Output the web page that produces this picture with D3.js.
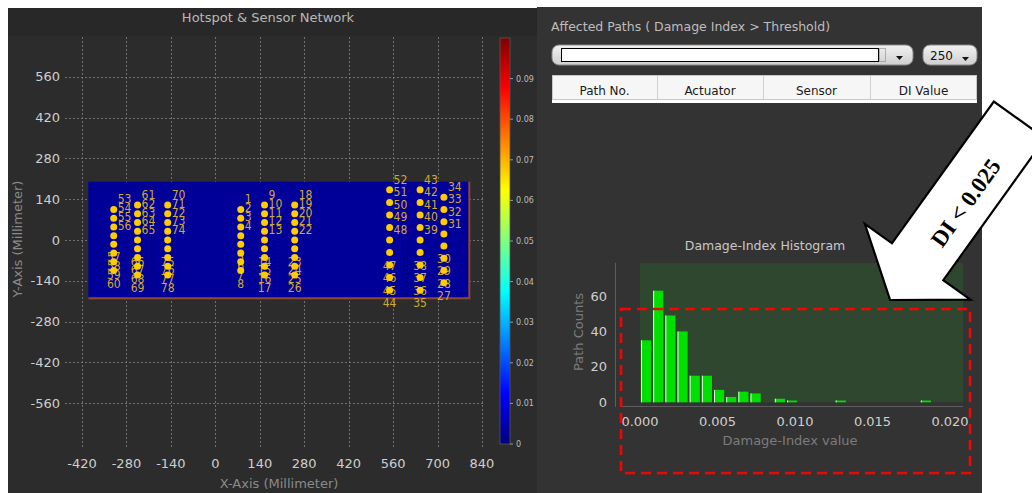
<!DOCTYPE html>
<html><head><meta charset="utf-8">
<script src="https://cdn.jsdelivr.net/npm/d3@7"></script>
<style>html,body{margin:0;padding:0;background:#fff;overflow:hidden}svg{display:block}</style>
</head><body>
<svg id="c" width="1032" height="493"></svg>
<script>
// ---------------- data ----------------
const sensorId = [1,2,3,4,5,6,7,8, 9,10,11,12,13,14,15,16,17, 18,19,20,21,22,23,24,25,26,
  27,28,29,30,31,32,33,34, 35,36,37,38,39,40,41,42,43, 44,45,46,47,48,49,50,51,52,
  53,54,55,56,57,58,59,60, 61,62,63,64,65,66,67,68,69, 70,71,72,73,74,75,76,77,78];
const sensorX = [80,80,80,80,80,80,80,80, 155,155,155,155,155,155,155,155,155, 250,250,250,250,250,250,250,250,250,
  720,720,720,720,720,720,720,720, 645,645,645,645,645,645,645,645,645, 549,549,549,549,549,549,549,549,549,
  -320,-320,-320,-320,-320,-320,-320,-320, -245,-245,-245,-245,-245,-245,-245,-245,-245, -150,-150,-150,-150,-150,-150,-150,-150,-150];
const sensorY = [105,75,45,15,-15,-45,-75,-105, 120,90,60,30,0,-30,-60,-90,-120, 120,90,60,30,0,-30,-60,-90,-120,
  -147,-105,-63,-21,21,63,105,147, -172,-129,-86,-43,0,43,86,129,172, -172,-129,-86,-43,0,43,86,129,172,
  105,75,45,15,-15,-45,-75,-105, 120,90,60,30,0,-30,-60,-90,-120, 120,90,60,30,0,-30,-60,-90,-120];
const plateX = [-400, 800];
const plateY = [-200, 200];
const hotspotLineX = [-202, 202, 605];
const hotspotLineY = [-195, 190];
const xTicks = [-420,-280,-140,0,140,280,420,560,700,840];
const yTicks = [-560,-420,-280,-140,0,140,280,420,560];
const cbTicks = [0,0.01,0.02,0.03,0.04,0.05,0.06,0.07,0.08,0.09];
const cbTickLabels = ["0","0.01","0.02","0.03","0.04","0.05","0.06","0.07","0.08","0.09"];
const histCounts = [35,63,49,40,15,15,7,3,6,5,0,2,1,0,0,0,1,0,0,0,0,0,0,1];
const histBinWidth = 0.000785;
const histXTicks = [0,0.005,0.010,0.015,0.020];
const histXTickLabels = ["0.000","0.005","0.010","0.015","0.020"];
const histYTicks = [0,20,40,60];
const tableHeaders = ["Path No.","Actuator","Sensor","DI Value"];
const comboValue = "250";

// ---------------- drawing ----------------
const svg = d3.select("#c");
const FONT = "'DejaVu Sans', Verdana, sans-serif";

// panels
svg.append("rect").attr("x",0).attr("y",0).attr("width",1032).attr("height",493).attr("fill","#fff");
svg.append("rect").attr("x",8).attr("y",8).attr("width",529).attr("height",485).attr("fill","#2c2c2c");
svg.append("rect").attr("x",8).attr("y",8).attr("width",529).attr("height",28).attr("fill","#282828");
svg.append("rect").attr("x",537).attr("y",7).attr("width",445).attr("height",486).attr("fill","#333333");

// ---- left chart ----
const x = d3.scaleLinear().domain([-420,840]).range([82,482]);
const y = d3.scaleLinear().domain([-560,560]).range([403.2,76.8]);

svg.append("text").attr("x",268).attr("y",22).attr("text-anchor","middle")
  .attr("font-family",FONT).attr("font-size",13).attr("fill","#b8b8b8").text("Hotspot & Sensor Network");

const grid = svg.append("g").attr("stroke","#707070").attr("stroke-width",1).attr("stroke-dasharray","2,2").attr("shape-rendering","crispEdges");
grid.selectAll("line.v").data(xTicks).join("line").attr("class","v")
  .attr("x1",d=>Math.round(x(d))+0.5).attr("x2",d=>Math.round(x(d))+0.5).attr("y1",37).attr("y2",447);
grid.selectAll("line.h").data(yTicks).join("line").attr("class","h")
  .attr("y1",d=>Math.round(y(d))+0.5).attr("y2",d=>Math.round(y(d))+0.5).attr("x1",65).attr("x2",483);

svg.append("g").selectAll("text").data(yTicks).join("text")
  .attr("x",60).attr("y",d=>y(d)+4.5).attr("text-anchor","end")
  .attr("font-family",FONT).attr("font-size",13).attr("fill","#cfcfcf").text(d=>d);
svg.append("g").selectAll("text").data(xTicks).join("text")
  .attr("x",d=>x(d)).attr("y",467.5).attr("text-anchor","middle")
  .attr("font-family",FONT).attr("font-size",13).attr("fill","#cfcfcf").text(d=>d);
svg.append("text").attr("x",279).attr("y",487.5).attr("text-anchor","middle")
  .attr("font-family",FONT).attr("font-size",13).attr("fill","#8a8a8a").text("X-Axis (Millimeter)");
svg.append("text").attr("transform","translate(22,239) rotate(-90)").attr("text-anchor","middle")
  .attr("font-family",FONT).attr("font-size",13).attr("fill","#8a8a8a").text("Y-Axis (Millimeter)");

// plate
svg.append("rect").attr("x",x(plateX[0])).attr("y",y(plateY[1]))
  .attr("width",x(plateX[1])-x(plateX[0])).attr("height",y(plateY[0])-y(plateY[1]))
  .attr("fill","#000099");
svg.append("line").attr("x1",x(plateX[0])).attr("x2",x(plateX[1])+1).attr("y1",y(plateY[0])).attr("y2",y(plateY[0]))
  .attr("stroke","#8e4a2e").attr("stroke-width",2);
svg.append("line").attr("x1",x(plateX[1])).attr("x2",x(plateX[1])).attr("y1",y(plateY[1])).attr("y2",y(plateY[0]))
  .attr("stroke","#8e4a2e").attr("stroke-width",2);
svg.append("g").selectAll("line").data(hotspotLineX).join("line")
  .attr("x1",d=>x(d)).attr("x2",d=>x(d)).attr("y1",y(hotspotLineY[1])).attr("y2",y(hotspotLineY[0]))
  .attr("stroke","#000").attr("stroke-width",1).attr("stroke-dasharray","2,2");

// sensors
const sensors = sensorId.map((id,i)=>({id, sx:sensorX[i], sy:sensorY[i]}));
svg.append("g").selectAll("text").data(sensors).join("text")
  .attr("x",d=> d.sy>=0 ? x(d.sx)+4 : x(d.sx))
  .attr("y",d=> d.sy>=0 ? y(d.sy)-10 : y(d.sy)+13)
  .attr("text-anchor",d=> d.sy>=0 ? "start" : "middle")
  .attr("dominant-baseline","central")
  .attr("font-family","'DejaVu Sans Condensed','Liberation Sans Narrow',sans-serif").attr("font-size",12)
  .attr("fill","#d2aa2a").text(d=>d.id);
svg.append("g").selectAll("circle").data(sensors).join("circle")
  .attr("cx",d=>x(d.sx)).attr("cy",d=>y(d.sy)).attr("r",3.5).attr("fill","#ffcc00");

// colorbar
const cb = d3.scaleLinear().domain([0,0.1]).range([444,38]);
const defs = svg.append("defs");
const grad = defs.append("linearGradient").attr("id","jet").attr("x1",0).attr("y1",1).attr("x2",0).attr("y2",0);
[[0,"#00007f"],[0.125,"#0000ff"],[0.375,"#00ffff"],[0.625,"#ffff00"],[0.875,"#ff0000"],[1,"#7f0000"]]
  .forEach(s=>grad.append("stop").attr("offset",s[0]).attr("stop-color",s[1]));
svg.append("rect").attr("x",500).attr("y",cb(0.1)).attr("width",10).attr("height",cb(0)-cb(0.1))
  .attr("fill","url(#jet)").attr("stroke","#555").attr("stroke-width",0.8);
svg.append("g").selectAll("line").data(cbTicks).join("line")
  .attr("x1",510).attr("x2",513).attr("y1",d=>cb(d)).attr("y2",d=>cb(d)).attr("stroke","#999");
svg.append("g").selectAll("text").data(cbTicks).join("text")
  .attr("x",516).attr("y",d=>cb(d)+3).attr("font-family",FONT).attr("font-size",8)
  .attr("fill","#bdbdbd").text((d,i)=>cbTickLabels[i]);

// ---- right panel UI ----
svg.append("text").attr("x",551).attr("y",31).attr("font-family",FONT).attr("font-size",12.5)
  .attr("fill","#bdbdbd").text("Affected Paths ( Damage Index > Threshold)");
const cg = defs.append("linearGradient").attr("id","combo").attr("x1",0).attr("y1",0).attr("x2",0).attr("y2",1);
cg.append("stop").attr("offset",0).attr("stop-color","#f2f2f2");
cg.append("stop").attr("offset",1).attr("stop-color","#cfcfcf");
svg.append("rect").attr("x",552).attr("y",45).attr("width",361).attr("height",20).attr("rx",7)
  .attr("fill","url(#combo)").attr("stroke","#8a8a8a");
svg.append("rect").attr("x",561.5).attr("y",48.5).attr("width",317).attr("height",13)
  .attr("fill","#fff").attr("stroke","#000");
svg.append("rect").attr("x",879.5).attr("y",48.5).attr("width",6).attr("height",13)
  .attr("fill","none").attr("stroke","#777").attr("stroke-dasharray","1,1");
svg.append("path").attr("d","M896,56 L903,56 L899.5,60 Z").attr("fill","#111");
svg.append("rect").attr("x",923).attr("y",45).attr("width",54).attr("height",20).attr("rx",7)
  .attr("fill","url(#combo)").attr("stroke","#8a8a8a");
svg.append("text").attr("x",930).attr("y",60).attr("font-family",FONT).attr("font-size",12)
  .attr("fill","#111").text(comboValue);
svg.append("path").attr("d","M962,57 L969,57 L965.5,61 Z").attr("fill","#111");

svg.append("rect").attr("x",552).attr("y",75).attr("width",425).attr("height",28).attr("fill","#fff");
svg.append("rect").attr("x",552.5).attr("y",75.5).attr("width",424).attr("height",24)
  .attr("fill","#f6f6f6").attr("stroke","#c8c8c8");
const colEdges = [552,657,763,870,977];
svg.append("g").selectAll("line").data(colEdges.slice(1,4)).join("line")
  .attr("x1",d=>d+0.5).attr("x2",d=>d+0.5).attr("y1",76).attr("y2",99).attr("stroke","#d0d0d0");
svg.append("g").selectAll("text").data(tableHeaders).join("text")
  .attr("x",(d,i)=>(colEdges[i]+colEdges[i+1])/2).attr("y",95).attr("text-anchor","middle")
  .attr("font-family",FONT).attr("font-size",12).attr("fill","#1a1a1a").text(d=>d);

// ---- histogram ----
const hx = d3.scaleLinear().domain([0,0.02]).range([640,950]);
const hy = d3.scaleLinear().domain([0,60]).range([402.3,296]);
svg.append("text").attr("x",765).attr("y",250).attr("text-anchor","middle")
  .attr("font-family",FONT).attr("font-size",12.5).attr("fill","#c8c8c8").text("Damage-Index Histogram");
svg.append("rect").attr("x",640).attr("y",hy(78.7)).attr("width",323).attr("height",hy(0)-hy(78.7)).attr("fill","#2f472f");
svg.append("line").attr("x1",615.5).attr("x2",615.5).attr("y1",hy(78.7)).attr("y2",407).attr("stroke","#5e5e5e");
svg.append("line").attr("x1",620).attr("x2",963).attr("y1",406.5).attr("y2",406.5).attr("stroke","#5e5e5e");
const bins = histCounts.map((c,i)=>({c, x0:i*histBinWidth, x1:(i+1)*histBinWidth})).filter(b=>b.c>0);
const bg = svg.append("g");
bg.selectAll("rect").data(bins).join("rect")
  .attr("x",d=>hx(d.x0)+1).attr("width",d=>hx(d.x1)-hx(d.x0)-2)
  .attr("y",d=>hy(d.c)).attr("height",d=>hy(0)-hy(d.c)).attr("fill","#00e000");
bg.selectAll("line").data(bins).join("line")
  .attr("x1",d=>hx(d.x0)+1.5).attr("x2",d=>hx(d.x0)+1.5)
  .attr("y1",d=>hy(d.c)).attr("y2",hy(0)).attr("stroke","#d8ffd8").attr("stroke-width",1);
svg.append("g").selectAll("text").data(histYTicks).join("text")
  .attr("x",607).attr("y",d=>hy(d)+4.5).attr("text-anchor","end")
  .attr("font-family",FONT).attr("font-size",13).attr("fill","#cfcfcf").text(d=>d);
svg.append("g").selectAll("text").data(histXTicks).join("text")
  .attr("x",d=>hx(d)).attr("y",425.5).attr("text-anchor","middle")
  .attr("font-family",FONT).attr("font-size",13).attr("fill","#cfcfcf").text((d,i)=>histXTickLabels[i]);
svg.append("text").attr("x",790).attr("y",445).attr("text-anchor","middle")
  .attr("font-family",FONT).attr("font-size",13).attr("fill","#7c7c7c").text("Damage-Index value");
svg.append("text").attr("transform","translate(583,332) rotate(-90)").attr("text-anchor","middle")
  .attr("font-family",FONT).attr("font-size",13).attr("fill","#7c7c7c").text("Path Counts");

// red dashed highlight
svg.append("rect").attr("x",621).attr("y",309).attr("width",349).attr("height",164)
  .attr("fill","none").attr("stroke","#ff0000").attr("stroke-width",2.5).attr("stroke-dasharray","10,6");

// big arrow annotation
const ag = svg.append("g").attr("transform","translate(1012.5,129.7) rotate(125.7)");
ag.append("path").attr("d","M-12,-31.6 L162.6,-31.6 L162.6,-65 L209.7,0 L162.6,65 L162.6,31.6 L-12,31.6 Z")
  .attr("fill","#fff").attr("stroke","#000").attr("stroke-width",2.2).attr("stroke-linejoin","miter");
svg.append("text").attr("transform","translate(966,203) rotate(-54.3)").attr("text-anchor","middle")
  .attr("dominant-baseline","central").attr("font-family","'Liberation Serif','Times New Roman',serif")
  .attr("font-weight","bold").attr("font-size",23).attr("fill","#000").text("DI < 0.025");
</script>
</body></html>
